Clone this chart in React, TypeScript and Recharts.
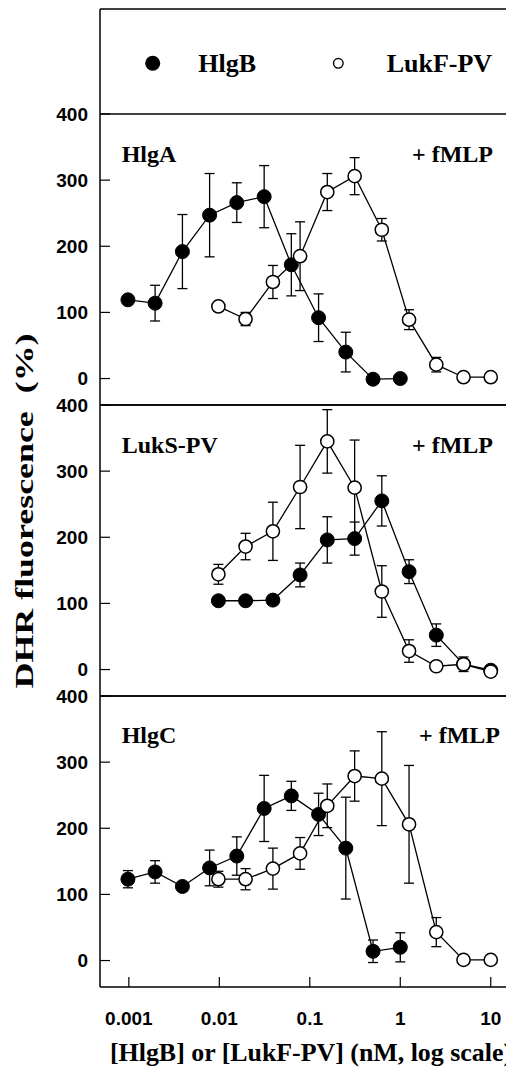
import React from 'react';
import { ComposedChart, Line, XAxis, YAxis, ErrorBar } from 'recharts';

// ---- data ----
const xTicks = [0.001, 0.01, 0.1, 1, 10];
const yTicks = [0, 100, 200, 300, 400];

// concentrations (nM)
const concLow = [0.000977, 0.00195, 0.00391, 0.00781, 0.0156, 0.0313, 0.0625, 0.125, 0.25, 0.5, 1];
const concHigh = [0.00977, 0.0195, 0.0391, 0.0781, 0.156, 0.313, 0.625, 1.25, 2.5, 5, 10];

// Panel HlgA
const hlgbA = [119, 114, 192, 247, 266, 275, 172, 92, 40, -1, 0];
const hlgbAErr = [0, 27, 56, 63, 30, 47, 47, 36, 30, 0, 0];
const lukfA = [109, 90, 146, 185, 282, 306, 225, 89, 21, 2, 2];
const lukfAErr = [0, 10, 25, 52, 28, 28, 17, 15, 11, 0, 0];

// Panel LukS-PV
const hlgbS = [104, 104, 105, 143, 196, 198, 255, 148, 52, 8, -1];
const hlgbSErr = [0, 0, 0, 18, 35, 25, 38, 18, 17, 11, 0];
const lukfS = [144, 186, 209, 276, 345, 275, 118, 28, 5, 8, -3];
const lukfSErr = [15, 20, 44, 63, 48, 72, 39, 17, 0, 0, 0];

// Panel HlgC
const hlgbC = [123, 134, 112, 140, 158, 230, 249, 221, 170, 14, 20];
const hlgbCErr = [13, 17, 0, 27, 29, 50, 22, 32, 77, 17, 22];
const lukfC = [123, 123, 139, 162, 234, 279, 275, 206, 43, 1, 1];
const lukfCErr = [12, 16, 31, 24, 33, 38, 71, 89, 22, 0, 0];

const build = (xs: number[], ys: number[], es: number[]) =>
  xs.map((x, i) => ({ x, y: ys[i], err: es[i] }));

const panels = [
  { name: 'HlgA', filled: build(concLow, hlgbA, hlgbAErr), open: build(concHigh, lukfA, lukfAErr) },
  { name: 'LukS-PV', filled: build(concHigh, hlgbS, hlgbSErr), open: build(concHigh, lukfS, lukfSErr) },
  { name: 'HlgC', filled: build(concLow, hlgbC, hlgbCErr), open: build(concHigh, lukfC, lukfCErr) },
];

const X_DOMAIN: [number, number] = [0.00048, 20];
const PLOT_H = 291;
const PANEL_TOPS = [106, 397, 688]; // relative to wrapper (page - 8)
const CHART_W = 560;

const sansTick = {
  fontFamily: '"Liberation Sans", Arial, sans-serif',
  fontSize: 19,
  fontWeight: 'bold',
  fill: '#000',
};
const serif = '"Liberation Serif", "Times New Roman", serif';
const axisLine = { stroke: '#000', strokeWidth: 1.5 };
const tickLine = { stroke: '#000', strokeWidth: 1.2 };

function Panel({ idx }: { idx: number }) {
  const p = panels[idx];
  const last = idx === panels.length - 1;
  const bottomH = last ? 80 : 10;
  const H = PLOT_H + 10 + bottomH;
  return (
    <div style={{ position: 'absolute', left: 0, top: PANEL_TOPS[idx] - 10 }}>
      <ComposedChart
        width={CHART_W}
        height={H}
        margin={{ top: 0, right: 10, bottom: 0, left: 52 }}
      >
        <XAxis
          xAxisId="top"
          orientation="top"
          dataKey="x"
          type="number"
          scale="log"
          domain={X_DOMAIN}
          allowDataOverflow
          ticks={xTicks}
          interval={0}
          height={10}
          tick={false}
          tickSize={-10}
          axisLine={axisLine}
          tickLine={tickLine}
        />
        <XAxis
          xAxisId="bottom"
          orientation="bottom"
          dataKey="x"
          type="number"
          scale="log"
          domain={X_DOMAIN}
          allowDataOverflow
          ticks={xTicks}
          interval={0}
          height={bottomH}
          tick={last ? sansTick : false}
          tickFormatter={(v: number) => String(v)}
          tickSize={-10}
          tickMargin={35}
          axisLine={axisLine}
          tickLine={tickLine}
        />
        <YAxis
          yAxisId="left"
          orientation="left"
          type="number"
          domain={[-40, 400]}
          allowDataOverflow
          ticks={yTicks}
          interval={0}
          width={40}
          tick={sansTick}
          tickSize={-10}
          tickMargin={22}
          axisLine={axisLine}
          tickLine={tickLine}
        />
        <YAxis
          yAxisId="right"
          orientation="right"
          type="number"
          domain={[-40, 400]}
          allowDataOverflow
          ticks={yTicks}
          interval={0}
          width={40}
          tick={false}
          tickSize={-10}
          axisLine={axisLine}
          tickLine={tickLine}
        />
        <Line
          xAxisId="bottom"
          yAxisId="left"
          data={p.filled}
          dataKey="y"
          type="linear"
          stroke="#000"
          strokeWidth={1.3}
          dot={{ r: 7, fill: '#000', stroke: '#000', strokeWidth: 1 }}
          activeDot={false}
          isAnimationActive={false}
        >
          <ErrorBar dataKey="err" direction="y" width={5} stroke="#000" strokeWidth={1.3} />
        </Line>
        <Line
          xAxisId="bottom"
          yAxisId="left"
          data={p.open}
          dataKey="y"
          type="linear"
          stroke="#000"
          strokeWidth={1.3}
          dot={{ r: 6.6, fill: '#fff', stroke: '#000', strokeWidth: 1.5 }}
          activeDot={false}
          isAnimationActive={false}
        >
          <ErrorBar dataKey="err" direction="y" width={5} stroke="#000" strokeWidth={1.3} />
        </Line>
      </ComposedChart>
    </div>
  );
}

const panelLabelBaselines = [153.7, 444.7, 735.3];
const fmlpRight = [485, 485, 492];

export default function App() {
  return (
    <div style={{ position: 'relative', width: 506, height: 1067, overflow: 'hidden', background: '#fff' }}>
      {panels.map((_, i) => (
        <Panel key={i} idx={i} />
      ))}
      <svg
        width={506}
        height={1067}
        style={{ position: 'absolute', left: 0, top: 0, pointerEvents: 'none' }}
      >
        {/* legend box */}
        <line x1={92} y1={1} x2={506} y2={1} stroke="#000" strokeWidth={1.5} />
        <line x1={92} y1={1} x2={92} y2={106} stroke="#000" strokeWidth={1.5} />
        <circle cx={144.7} cy={55.3} r={7.5} fill="#000" />
        <text x={190.3} y={63.7} fontFamily={serif} fontWeight="bold" fontSize={26}>
          HlgB
        </text>
        <circle cx={330.3} cy={55.3} r={4.8} fill="#fff" stroke="#000" strokeWidth={1.4} />
        <text x={378.7} y={63.7} fontFamily={serif} fontWeight="bold" fontSize={26}>
          LukF-PV
        </text>

        {/* panel labels */}
        {panels.map((p, i) => (
          <g key={p.name}>
            <text x={113.7} y={panelLabelBaselines[i]} fontFamily={serif} fontWeight="bold" fontSize={24}>
              {p.name}
            </text>
            <text
              x={fmlpRight[i]}
              y={panelLabelBaselines[i]}
              textAnchor="end"
              fontFamily={serif}
              fontWeight="bold"
              fontSize={24}
            >
              + fMLP
            </text>
          </g>
        ))}

        {/* axis titles */}
        <text
          x={102}
          y={1053}
          fontFamily={serif}
          fontWeight="bold"
          fontSize={26}
          textLength={402}
          lengthAdjust="spacingAndGlyphs"
        >
          [HlgB] or [LukF-PV] (nM, log scale)
        </text>
        <text
          x={0}
          y={0}
          transform="translate(25, 503) rotate(-90)"
          textAnchor="middle"
          fontFamily={serif}
          fontWeight="bold"
          fontSize={25}
          textLength={355}
          lengthAdjust="spacingAndGlyphs"
          style={{ whiteSpace: 'pre' }}
        >
          {'DHR fluorescence  (%)'}
        </text>
      </svg>
    </div>
  );
}
